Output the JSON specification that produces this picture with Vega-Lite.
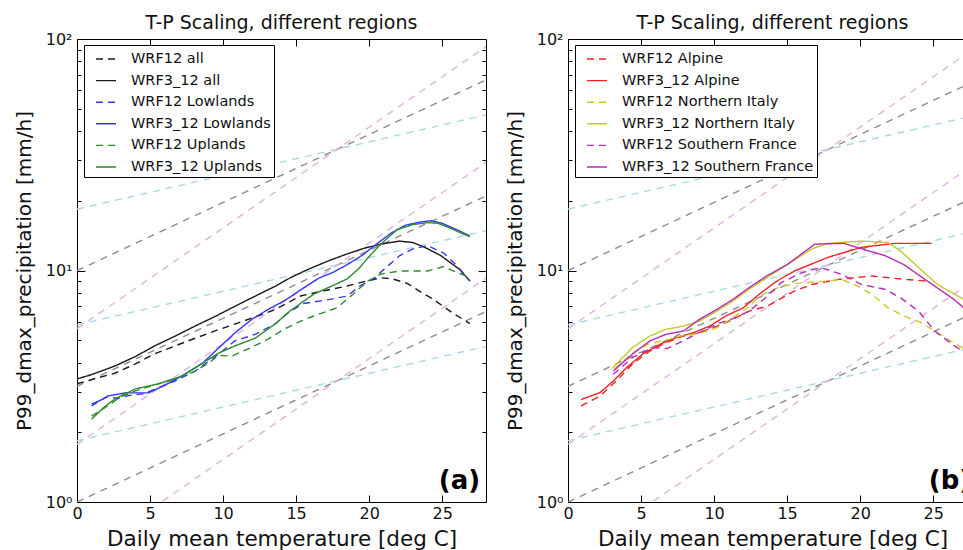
{
  "$schema": "https://vega.github.io/schema/vega-lite/v6.json",
  "padding": {"left": 14, "top": 14, "right": 0, "bottom": 0},
  "autosize": {"type": "pad"},
  "spacing": 18,
  "background": "white",
  "config": {
    "view": {"stroke": null},
    "font": "DejaVu Sans",
    "axis": {
      "labelFont": "DejaVu Sans", "labelFontSize": 16, "labelColor": "#111",
      "titleFont": "DejaVu Sans", "titleFontSize": 20, "titleFontWeight": "normal", "titleColor": "#111",
      "grid": false, "domainColor": "#000", "domainWidth": 1, "tickColor": "#000", "tickWidth": 1,
      "labelOverlap": false, "labelFlush": false, "labelBound": false
    },
    "legend": {
      "orient": "none", "legendX": 7, "legendY": 6, "padding": 3, "symbolOffset": 8,
      "symbolSize": 400, "symbolStrokeWidth": 1.4, "symbolType": "stroke",
      "labelOffset": 14, "rowPadding": 3.6, "labelFontSize": 14.5, "labelFont": "DejaVu Sans",
      "labelColor": "#111", "labelLimit": 0, "fillColor": "white", "strokeColor": "#000",
      "title": null
    },
    "title": {"font": "DejaVu Sans", "fontSize": 19, "fontWeight": "normal", "color": "#111", "baseline": "alphabetic", "offset": -2, "anchor": "middle"}
  },
  "datasets": {
    "ref": [
      {"fam": "0.5CC", "id": "c1", "T": 0, "P": 1.84}, {"fam": "0.5CC", "id": "c1", "T": 28, "P": 4.70},
      {"fam": "0.5CC", "id": "c2", "T": 0, "P": 5.82}, {"fam": "0.5CC", "id": "c2", "T": 28, "P": 14.86},
      {"fam": "0.5CC", "id": "c3", "T": 0, "P": 18.4}, {"fam": "0.5CC", "id": "c3", "T": 28, "P": 47.0},
      {"fam": "1CC", "id": "g1", "T": 0, "P": 1.0}, {"fam": "1CC", "id": "g1", "T": 28, "P": 6.65},
      {"fam": "1CC", "id": "g2", "T": 0, "P": 3.16}, {"fam": "1CC", "id": "g2", "T": 28, "P": 21.0},
      {"fam": "1CC", "id": "g3", "T": 0, "P": 10.0}, {"fam": "1CC", "id": "g3", "T": 28, "P": 66.5},
      {"fam": "1.5CC", "id": "p1", "T": 0, "P": 0.561}, {"fam": "1.5CC", "id": "p1", "T": 28, "P": 9.27},
      {"fam": "1.5CC", "id": "p2", "T": 0, "P": 1.774}, {"fam": "1.5CC", "id": "p2", "T": 28, "P": 29.3},
      {"fam": "1.5CC", "id": "p3", "T": 0, "P": 5.61}, {"fam": "1.5CC", "id": "p3", "T": 28, "P": 92.7}
    ],
    "a": [
      {"series": "WRF12 all", "T": 0.0, "P": 3.24}, {"series": "WRF12 all", "T": 1.0, "P": 3.38}, {"series": "WRF12 all", "T": 2.6, "P": 3.6}, {"series": "WRF12 all", "T": 4.0, "P": 3.95}, {"series": "WRF12 all", "T": 5.3, "P": 4.36}, {"series": "WRF12 all", "T": 6.7, "P": 4.72}, {"series": "WRF12 all", "T": 8.1, "P": 5.1}, {"series": "WRF12 all", "T": 9.5, "P": 5.5}, {"series": "WRF12 all", "T": 10.8, "P": 5.87}, {"series": "WRF12 all", "T": 12.2, "P": 6.3}, {"series": "WRF12 all", "T": 13.6, "P": 6.8}, {"series": "WRF12 all", "T": 15.3, "P": 7.76}, {"series": "WRF12 all", "T": 17.0, "P": 8.2}, {"series": "WRF12 all", "T": 18.5, "P": 8.57}, {"series": "WRF12 all", "T": 19.8, "P": 9.0}, {"series": "WRF12 all", "T": 20.8, "P": 9.3}, {"series": "WRF12 all", "T": 21.6, "P": 9.2}, {"series": "WRF12 all", "T": 22.6, "P": 8.8}, {"series": "WRF12 all", "T": 23.5, "P": 8.1}, {"series": "WRF12 all", "T": 24.4, "P": 7.5}, {"series": "WRF12 all", "T": 25.8, "P": 6.5}, {"series": "WRF12 all", "T": 26.9, "P": 5.9},
      {"series": "WRF3_12 all", "T": 0.0, "P": 3.4}, {"series": "WRF3_12 all", "T": 1.0, "P": 3.55}, {"series": "WRF3_12 all", "T": 2.6, "P": 3.87}, {"series": "WRF3_12 all", "T": 4.0, "P": 4.25}, {"series": "WRF3_12 all", "T": 5.3, "P": 4.72}, {"series": "WRF3_12 all", "T": 6.7, "P": 5.2}, {"series": "WRF3_12 all", "T": 8.1, "P": 5.76}, {"series": "WRF3_12 all", "T": 9.5, "P": 6.35}, {"series": "WRF3_12 all", "T": 10.8, "P": 7.0}, {"series": "WRF3_12 all", "T": 12.2, "P": 7.75}, {"series": "WRF3_12 all", "T": 13.6, "P": 8.57}, {"series": "WRF3_12 all", "T": 14.6, "P": 9.3}, {"series": "WRF3_12 all", "T": 15.8, "P": 10.1}, {"series": "WRF3_12 all", "T": 17.2, "P": 11.0}, {"series": "WRF3_12 all", "T": 18.5, "P": 11.8}, {"series": "WRF3_12 all", "T": 19.7, "P": 12.5}, {"series": "WRF3_12 all", "T": 20.8, "P": 13.0}, {"series": "WRF3_12 all", "T": 22.1, "P": 13.4}, {"series": "WRF3_12 all", "T": 23.0, "P": 13.2}, {"series": "WRF3_12 all", "T": 23.8, "P": 12.6}, {"series": "WRF3_12 all", "T": 24.9, "P": 11.6}, {"series": "WRF3_12 all", "T": 26.2, "P": 10.1}, {"series": "WRF3_12 all", "T": 26.9, "P": 9.0},
      {"series": "WRF12 Lowlands", "T": 1.0, "P": 2.6}, {"series": "WRF12 Lowlands", "T": 1.6, "P": 2.75}, {"series": "WRF12 Lowlands", "T": 2.1, "P": 2.85}, {"series": "WRF12 Lowlands", "T": 2.8, "P": 2.8}, {"series": "WRF12 Lowlands", "T": 3.5, "P": 2.88}, {"series": "WRF12 Lowlands", "T": 4.5, "P": 2.93}, {"series": "WRF12 Lowlands", "T": 5.5, "P": 3.1}, {"series": "WRF12 Lowlands", "T": 6.7, "P": 3.33}, {"series": "WRF12 Lowlands", "T": 8.1, "P": 3.68}, {"series": "WRF12 Lowlands", "T": 9.7, "P": 4.36}, {"series": "WRF12 Lowlands", "T": 10.8, "P": 4.96}, {"series": "WRF12 Lowlands", "T": 12.2, "P": 5.3}, {"series": "WRF12 Lowlands", "T": 13.6, "P": 5.9}, {"series": "WRF12 Lowlands", "T": 14.5, "P": 6.6}, {"series": "WRF12 Lowlands", "T": 15.5, "P": 7.2}, {"series": "WRF12 Lowlands", "T": 17.3, "P": 7.5}, {"series": "WRF12 Lowlands", "T": 18.5, "P": 7.76}, {"series": "WRF12 Lowlands", "T": 19.4, "P": 8.6}, {"series": "WRF12 Lowlands", "T": 20.3, "P": 9.2}, {"series": "WRF12 Lowlands", "T": 21.0, "P": 10.1}, {"series": "WRF12 Lowlands", "T": 22.1, "P": 11.6}, {"series": "WRF12 Lowlands", "T": 23.0, "P": 12.4}, {"series": "WRF12 Lowlands", "T": 24.0, "P": 12.8}, {"series": "WRF12 Lowlands", "T": 25.1, "P": 11.9}, {"series": "WRF12 Lowlands", "T": 26.0, "P": 10.5}, {"series": "WRF12 Lowlands", "T": 26.9, "P": 9.0},
      {"series": "WRF3_12 Lowlands", "T": 1.0, "P": 2.65}, {"series": "WRF3_12 Lowlands", "T": 1.6, "P": 2.75}, {"series": "WRF3_12 Lowlands", "T": 2.1, "P": 2.87}, {"series": "WRF3_12 Lowlands", "T": 3.3, "P": 2.96}, {"series": "WRF3_12 Lowlands", "T": 4.9, "P": 2.96}, {"series": "WRF3_12 Lowlands", "T": 6.2, "P": 3.24}, {"series": "WRF3_12 Lowlands", "T": 7.4, "P": 3.57}, {"series": "WRF3_12 Lowlands", "T": 8.6, "P": 3.98}, {"series": "WRF3_12 Lowlands", "T": 9.7, "P": 4.63}, {"series": "WRF3_12 Lowlands", "T": 10.8, "P": 5.37}, {"series": "WRF3_12 Lowlands", "T": 12.0, "P": 6.17}, {"series": "WRF3_12 Lowlands", "T": 13.1, "P": 6.8}, {"series": "WRF3_12 Lowlands", "T": 14.2, "P": 7.4}, {"series": "WRF3_12 Lowlands", "T": 15.5, "P": 8.4}, {"series": "WRF3_12 Lowlands", "T": 16.6, "P": 9.3}, {"series": "WRF3_12 Lowlands", "T": 17.5, "P": 9.8}, {"series": "WRF3_12 Lowlands", "T": 18.5, "P": 10.6}, {"series": "WRF3_12 Lowlands", "T": 19.5, "P": 11.6}, {"series": "WRF3_12 Lowlands", "T": 20.5, "P": 13.0}, {"series": "WRF3_12 Lowlands", "T": 21.5, "P": 14.5}, {"series": "WRF3_12 Lowlands", "T": 22.5, "P": 15.7}, {"series": "WRF3_12 Lowlands", "T": 23.5, "P": 16.2}, {"series": "WRF3_12 Lowlands", "T": 24.2, "P": 16.4}, {"series": "WRF3_12 Lowlands", "T": 25.0, "P": 16.0}, {"series": "WRF3_12 Lowlands", "T": 26.0, "P": 15.0}, {"series": "WRF3_12 Lowlands", "T": 26.9, "P": 14.1},
      {"series": "WRF12 Uplands", "T": 1.0, "P": 2.35}, {"series": "WRF12 Uplands", "T": 2.1, "P": 2.6}, {"series": "WRF12 Uplands", "T": 3.0, "P": 2.85}, {"series": "WRF12 Uplands", "T": 4.0, "P": 3.02}, {"series": "WRF12 Uplands", "T": 5.3, "P": 3.2}, {"series": "WRF12 Uplands", "T": 6.7, "P": 3.4}, {"series": "WRF12 Uplands", "T": 8.0, "P": 3.65}, {"series": "WRF12 Uplands", "T": 9.0, "P": 3.98}, {"series": "WRF12 Uplands", "T": 9.7, "P": 4.3}, {"series": "WRF12 Uplands", "T": 10.6, "P": 4.27}, {"series": "WRF12 Uplands", "T": 11.7, "P": 4.58}, {"series": "WRF12 Uplands", "T": 13.1, "P": 5.06}, {"series": "WRF12 Uplands", "T": 14.2, "P": 5.59}, {"series": "WRF12 Uplands", "T": 15.2, "P": 6.0}, {"series": "WRF12 Uplands", "T": 16.2, "P": 6.36}, {"series": "WRF12 Uplands", "T": 17.8, "P": 6.9}, {"series": "WRF12 Uplands", "T": 18.9, "P": 7.9}, {"series": "WRF12 Uplands", "T": 19.9, "P": 9.0}, {"series": "WRF12 Uplands", "T": 20.8, "P": 9.66}, {"series": "WRF12 Uplands", "T": 22.1, "P": 9.95}, {"series": "WRF12 Uplands", "T": 24.0, "P": 9.95}, {"series": "WRF12 Uplands", "T": 25.1, "P": 10.4}, {"series": "WRF12 Uplands", "T": 26.0, "P": 9.8}, {"series": "WRF12 Uplands", "T": 26.6, "P": 9.5},
      {"series": "WRF3_12 Uplands", "T": 1.0, "P": 2.28}, {"series": "WRF3_12 Uplands", "T": 1.8, "P": 2.55}, {"series": "WRF3_12 Uplands", "T": 2.6, "P": 2.79}, {"series": "WRF3_12 Uplands", "T": 4.0, "P": 3.08}, {"series": "WRF3_12 Uplands", "T": 5.5, "P": 3.23}, {"series": "WRF3_12 Uplands", "T": 7.2, "P": 3.5}, {"series": "WRF3_12 Uplands", "T": 8.6, "P": 3.98}, {"series": "WRF3_12 Uplands", "T": 9.7, "P": 4.4}, {"series": "WRF3_12 Uplands", "T": 10.8, "P": 4.72}, {"series": "WRF3_12 Uplands", "T": 12.2, "P": 5.1}, {"series": "WRF3_12 Uplands", "T": 13.6, "P": 5.9}, {"series": "WRF3_12 Uplands", "T": 14.6, "P": 6.7}, {"series": "WRF3_12 Uplands", "T": 16.2, "P": 7.9}, {"series": "WRF3_12 Uplands", "T": 17.5, "P": 8.6}, {"series": "WRF3_12 Uplands", "T": 18.5, "P": 9.2}, {"series": "WRF3_12 Uplands", "T": 19.3, "P": 10.2}, {"series": "WRF3_12 Uplands", "T": 20.0, "P": 11.5}, {"series": "WRF3_12 Uplands", "T": 20.8, "P": 13.0}, {"series": "WRF3_12 Uplands", "T": 21.9, "P": 15.0}, {"series": "WRF3_12 Uplands", "T": 23.0, "P": 15.8}, {"series": "WRF3_12 Uplands", "T": 24.0, "P": 16.1}, {"series": "WRF3_12 Uplands", "T": 24.7, "P": 16.0}, {"series": "WRF3_12 Uplands", "T": 25.5, "P": 15.3}, {"series": "WRF3_12 Uplands", "T": 26.2, "P": 14.6}, {"series": "WRF3_12 Uplands", "T": 26.9, "P": 14.0}
    ],
    "b": [
      {"series": "WRF12 Alpine", "T": 0.9, "P": 2.6}, {"series": "WRF12 Alpine", "T": 2.2, "P": 2.87}, {"series": "WRF12 Alpine", "T": 3.3, "P": 3.33}, {"series": "WRF12 Alpine", "T": 4.4, "P": 3.94}, {"series": "WRF12 Alpine", "T": 5.6, "P": 4.49}, {"series": "WRF12 Alpine", "T": 6.7, "P": 4.88}, {"series": "WRF12 Alpine", "T": 7.9, "P": 5.21}, {"series": "WRF12 Alpine", "T": 9.0, "P": 5.39}, {"series": "WRF12 Alpine", "T": 10.2, "P": 5.75}, {"series": "WRF12 Alpine", "T": 11.3, "P": 6.15}, {"series": "WRF12 Alpine", "T": 12.4, "P": 6.68}, {"series": "WRF12 Alpine", "T": 13.6, "P": 7.0}, {"series": "WRF12 Alpine", "T": 15.5, "P": 8.15}, {"series": "WRF12 Alpine", "T": 16.7, "P": 8.7}, {"series": "WRF12 Alpine", "T": 18.5, "P": 9.16}, {"series": "WRF12 Alpine", "T": 20.8, "P": 9.47}, {"series": "WRF12 Alpine", "T": 23.0, "P": 9.16}, {"series": "WRF12 Alpine", "T": 24.6, "P": 9.0},
      {"series": "WRF3_12 Alpine", "T": 0.9, "P": 2.77}, {"series": "WRF3_12 Alpine", "T": 2.2, "P": 2.97}, {"series": "WRF3_12 Alpine", "T": 3.1, "P": 3.33}, {"series": "WRF3_12 Alpine", "T": 4.0, "P": 3.8}, {"series": "WRF3_12 Alpine", "T": 5.1, "P": 4.35}, {"series": "WRF3_12 Alpine", "T": 6.3, "P": 4.8}, {"series": "WRF3_12 Alpine", "T": 7.4, "P": 5.13}, {"series": "WRF3_12 Alpine", "T": 8.6, "P": 5.39}, {"series": "WRF3_12 Alpine", "T": 9.7, "P": 5.75}, {"series": "WRF3_12 Alpine", "T": 10.8, "P": 6.36}, {"series": "WRF3_12 Alpine", "T": 12.0, "P": 6.9}, {"series": "WRF3_12 Alpine", "T": 13.2, "P": 8.0}, {"series": "WRF3_12 Alpine", "T": 14.3, "P": 9.0}, {"series": "WRF3_12 Alpine", "T": 15.5, "P": 9.95}, {"series": "WRF3_12 Alpine", "T": 17.8, "P": 11.4}, {"series": "WRF3_12 Alpine", "T": 20.1, "P": 12.6}, {"series": "WRF3_12 Alpine", "T": 22.4, "P": 13.1}, {"series": "WRF3_12 Alpine", "T": 24.9, "P": 13.1},
      {"series": "WRF12 Northern Italy", "T": 3.2, "P": 3.75}, {"series": "WRF12 Northern Italy", "T": 4.4, "P": 4.4}, {"series": "WRF12 Northern Italy", "T": 5.6, "P": 4.85}, {"series": "WRF12 Northern Italy", "T": 6.7, "P": 5.0}, {"series": "WRF12 Northern Italy", "T": 7.9, "P": 5.25}, {"series": "WRF12 Northern Italy", "T": 9.0, "P": 5.35}, {"series": "WRF12 Northern Italy", "T": 10.2, "P": 5.66}, {"series": "WRF12 Northern Italy", "T": 11.3, "P": 6.26}, {"series": "WRF12 Northern Italy", "T": 12.4, "P": 7.0}, {"series": "WRF12 Northern Italy", "T": 13.2, "P": 7.8}, {"series": "WRF12 Northern Italy", "T": 14.5, "P": 8.5}, {"series": "WRF12 Northern Italy", "T": 16.0, "P": 8.86}, {"series": "WRF12 Northern Italy", "T": 17.8, "P": 9.0}, {"series": "WRF12 Northern Italy", "T": 18.7, "P": 9.16}, {"series": "WRF12 Northern Italy", "T": 19.6, "P": 8.7}, {"series": "WRF12 Northern Italy", "T": 20.8, "P": 7.9}, {"series": "WRF12 Northern Italy", "T": 21.9, "P": 6.9}, {"series": "WRF12 Northern Italy", "T": 23.0, "P": 6.36}, {"series": "WRF12 Northern Italy", "T": 24.2, "P": 5.95}, {"series": "WRF12 Northern Italy", "T": 25.8, "P": 5.13}, {"series": "WRF12 Northern Italy", "T": 27.1, "P": 4.6},
      {"series": "WRF3_12 Northern Italy", "T": 3.0, "P": 3.76}, {"series": "WRF3_12 Northern Italy", "T": 4.4, "P": 4.64}, {"series": "WRF3_12 Northern Italy", "T": 5.6, "P": 5.21}, {"series": "WRF3_12 Northern Italy", "T": 6.7, "P": 5.57}, {"series": "WRF3_12 Northern Italy", "T": 7.9, "P": 5.75}, {"series": "WRF3_12 Northern Italy", "T": 9.0, "P": 6.05}, {"series": "WRF3_12 Northern Italy", "T": 10.2, "P": 6.68}, {"series": "WRF3_12 Northern Italy", "T": 11.3, "P": 7.38}, {"series": "WRF3_12 Northern Italy", "T": 12.4, "P": 8.3}, {"series": "WRF3_12 Northern Italy", "T": 13.6, "P": 9.3}, {"series": "WRF3_12 Northern Italy", "T": 15.0, "P": 10.6}, {"series": "WRF3_12 Northern Italy", "T": 16.7, "P": 12.4}, {"series": "WRF3_12 Northern Italy", "T": 17.8, "P": 13.1}, {"series": "WRF3_12 Northern Italy", "T": 20.1, "P": 13.4}, {"series": "WRF3_12 Northern Italy", "T": 21.9, "P": 13.2}, {"series": "WRF3_12 Northern Italy", "T": 22.8, "P": 12.1}, {"series": "WRF3_12 Northern Italy", "T": 24.0, "P": 10.3}, {"series": "WRF3_12 Northern Italy", "T": 25.3, "P": 8.7}, {"series": "WRF3_12 Northern Italy", "T": 27.1, "P": 7.5},
      {"series": "WRF12 Southern France", "T": 3.1, "P": 3.56}, {"series": "WRF12 Southern France", "T": 4.4, "P": 4.2}, {"series": "WRF12 Southern France", "T": 5.8, "P": 4.64}, {"series": "WRF12 Southern France", "T": 6.8, "P": 4.6}, {"series": "WRF12 Southern France", "T": 8.1, "P": 5.05}, {"series": "WRF12 Southern France", "T": 9.0, "P": 5.4}, {"series": "WRF12 Southern France", "T": 10.2, "P": 5.87}, {"series": "WRF12 Southern France", "T": 11.3, "P": 6.2}, {"series": "WRF12 Southern France", "T": 12.4, "P": 6.68}, {"series": "WRF12 Southern France", "T": 13.5, "P": 7.6}, {"series": "WRF12 Southern France", "T": 14.6, "P": 8.86}, {"series": "WRF12 Southern France", "T": 16.0, "P": 9.78}, {"series": "WRF12 Southern France", "T": 17.3, "P": 10.3}, {"series": "WRF12 Southern France", "T": 18.7, "P": 9.64}, {"series": "WRF12 Southern France", "T": 20.1, "P": 8.7}, {"series": "WRF12 Southern France", "T": 21.7, "P": 8.3}, {"series": "WRF12 Southern France", "T": 22.8, "P": 7.6}, {"series": "WRF12 Southern France", "T": 24.0, "P": 6.68}, {"series": "WRF12 Southern France", "T": 25.1, "P": 5.48}, {"series": "WRF12 Southern France", "T": 26.3, "P": 4.8}, {"series": "WRF12 Southern France", "T": 27.1, "P": 4.45},
      {"series": "WRF3_12 Southern France", "T": 3.1, "P": 3.68}, {"series": "WRF3_12 Southern France", "T": 4.4, "P": 4.35}, {"series": "WRF3_12 Southern France", "T": 5.6, "P": 4.96}, {"series": "WRF3_12 Southern France", "T": 6.7, "P": 5.3}, {"series": "WRF3_12 Southern France", "T": 7.9, "P": 5.48}, {"series": "WRF3_12 Southern France", "T": 9.0, "P": 6.15}, {"series": "WRF3_12 Southern France", "T": 10.2, "P": 6.8}, {"series": "WRF3_12 Southern France", "T": 11.3, "P": 7.51}, {"series": "WRF3_12 Southern France", "T": 12.4, "P": 8.43}, {"series": "WRF3_12 Southern France", "T": 13.6, "P": 9.47}, {"series": "WRF3_12 Southern France", "T": 15.0, "P": 10.6}, {"series": "WRF3_12 Southern France", "T": 16.9, "P": 13.0}, {"series": "WRF3_12 Southern France", "T": 18.9, "P": 13.1}, {"series": "WRF3_12 Southern France", "T": 20.1, "P": 12.4}, {"series": "WRF3_12 Southern France", "T": 21.7, "P": 11.6}, {"series": "WRF3_12 Southern France", "T": 23.0, "P": 10.6}, {"series": "WRF3_12 Southern France", "T": 24.6, "P": 9.0}, {"series": "WRF3_12 Southern France", "T": 26.3, "P": 7.6}, {"series": "WRF3_12 Southern France", "T": 27.1, "P": 6.9}
    ]
  },
  "hconcat": [
    {
      "width": 409, "height": 463,
      "title": {"text": "T-P Scaling, different regions"},
      "resolve": {"axis": {"x": "independent", "y": "independent"}},
      "layer": [
        {
          "data": {"name": "ref"},
          "mark": {"type": "line", "clip": true, "strokeWidth": 1.4, "strokeDash": [7, 6]},
          "encoding": {
            "x": {"field": "T", "type": "quantitative", "scale": {"domain": [0, 28], "nice": false, "zero": false},
                  "axis": {"orient": "top", "values": [0, 5, 10, 15, 20, 25], "tickSize": -7, "labels": false, "title": null, "domain": true}},
            "y": {"field": "P", "type": "quantitative", "scale": {"type": "log", "domain": [1, 100], "nice": false},
                  "axis": {"orient": "right", "values": [1, 2, 3, 4, 5, 6, 7, 8, 9, 10, 20, 30, 40, 50, 60, 70, 80, 90, 100],
                           "tickSize": {"condition": {"test": "datum.value == 1 || datum.value == 10 || datum.value == 100", "value": -8}, "value": -4},
                           "labels": false, "title": null, "domain": true}},
            "detail": {"field": "id"},
            "stroke": {"field": "fam", "type": "nominal", "scale": {"domain": ["0.5CC", "1CC", "1.5CC"], "range": ["#a9d9e4", "#8c8c8c", "#e2b2e0"]}, "legend": null}
          }
        },
        {
          "data": {"name": "a"},
          "mark": {"type": "line", "clip": true, "strokeWidth": 1.4},
          "encoding": {
            "x": {"field": "T", "type": "quantitative", "scale": {"domain": [0, 28], "nice": false, "zero": false},
                  "axis": {"orient": "bottom", "values": [0, 5, 10, 15, 20, 25], "tickSize": -7, "labelPadding": 10, "title": "Daily mean temperature [deg C]", "titleFontSize": 21.5, "titleY": 43, "titleBaseline": "alphabetic", "domain": true}},
            "y": {"field": "P", "type": "quantitative", "scale": {"type": "log", "domain": [1, 100], "nice": false},
                  "axis": {"orient": "left", "values": [1, 2, 3, 4, 5, 6, 7, 8, 9, 10, 20, 30, 40, 50, 60, 70, 80, 90, 100],
                           "tickSize": {"condition": {"test": "datum.value == 1 || datum.value == 10 || datum.value == 100", "value": -8}, "value": -4},
                           "labelExpr": "datum.value == 1 ? '10⁰' : datum.value == 10 ? '10¹' : datum.value == 100 ? '10²' : ''",
                           "labelPadding": 13, "title": "P99_dmax_precipitation [mm/h]", "titleX": -53, "titleY": 231.5, "titleBaseline": "middle", "titleAlign": "center", "domain": true}},
            "color": {"field": "series", "type": "nominal",
                      "scale": {"domain": ["WRF12 all", "WRF3_12 all", "WRF12 Lowlands", "WRF3_12 Lowlands", "WRF12 Uplands", "WRF3_12 Uplands"],
                                "range": ["#1a1a1a", "#1a1a1a", "#3636ee", "#3636ee", "#2a8c2a", "#2a8c2a"]},
                      "legend": {}},
            "strokeDash": {"field": "series", "type": "nominal",
                      "scale": {"domain": ["WRF12 all", "WRF3_12 all", "WRF12 Lowlands", "WRF3_12 Lowlands", "WRF12 Uplands", "WRF3_12 Uplands"],
                                "range": [[7, 5], [1, 0], [7, 5], [1, 0], [7, 5], [1, 0]]},
                      "legend": {}}
          }
        },
        {
          "data": {"values": [{}]},
          "mark": {"type": "text", "text": "(a)", "fontSize": 26, "fontWeight": "bold", "align": "right", "baseline": "alphabetic", "color": "#000", "clip": true},
          "encoding": {
            "x": {"datum": 27.6, "type": "quantitative", "axis": null},
            "y": {"datum": 1.14, "type": "quantitative", "axis": null}
          }
        }
      ]
    },
    {
      "width": 396, "height": 463,
      "title": {"text": "T-P Scaling, different regions", "dx": 6.5},
      "resolve": {"axis": {"x": "independent", "y": "independent"}},
      "layer": [
        {
          "data": {"name": "ref"},
          "mark": {"type": "line", "clip": true, "strokeWidth": 1.4, "strokeDash": [7, 6]},
          "encoding": {
            "x": {"field": "T", "type": "quantitative", "scale": {"domain": [0, 27.11], "nice": false, "zero": false},
                  "axis": {"orient": "top", "values": [0, 5, 10, 15, 20, 25], "tickSize": -7, "labels": false, "title": null, "domain": true}},
            "y": {"field": "P", "type": "quantitative", "scale": {"type": "log", "domain": [1, 100], "nice": false}, "axis": null},
            "detail": {"field": "id"},
            "stroke": {"field": "fam", "type": "nominal", "scale": {"domain": ["0.5CC", "1CC", "1.5CC"], "range": ["#a9d9e4", "#8c8c8c", "#e2b2e0"]}, "legend": null}
          }
        },
        {
          "data": {"name": "b"},
          "mark": {"type": "line", "clip": true, "strokeWidth": 1.4},
          "encoding": {
            "x": {"field": "T", "type": "quantitative", "scale": {"domain": [0, 27.11], "nice": false, "zero": false},
                  "axis": {"orient": "bottom", "values": [0, 5, 10, 15, 20, 25], "tickSize": -7, "labelPadding": 10, "title": "Daily mean temperature [deg C]", "titleFontSize": 21.5, "titleX": 204.5, "titleY": 43, "titleBaseline": "alphabetic", "domain": true}},
            "y": {"field": "P", "type": "quantitative", "scale": {"type": "log", "domain": [1, 100], "nice": false},
                  "axis": {"orient": "left", "values": [1, 2, 3, 4, 5, 6, 7, 8, 9, 10, 20, 30, 40, 50, 60, 70, 80, 90, 100],
                           "tickSize": {"condition": {"test": "datum.value == 1 || datum.value == 10 || datum.value == 100", "value": -8}, "value": -4},
                           "labelExpr": "datum.value == 1 ? '10⁰' : datum.value == 10 ? '10¹' : datum.value == 100 ? '10²' : ''",
                           "labelPadding": 13, "title": "P99_dmax_precipitation [mm/h]", "titleX": -53, "titleY": 231.5, "titleBaseline": "middle", "titleAlign": "center", "domain": true}},
            "color": {"field": "series", "type": "nominal",
                      "scale": {"domain": ["WRF12 Alpine", "WRF3_12 Alpine", "WRF12 Northern Italy", "WRF3_12 Northern Italy", "WRF12 Southern France", "WRF3_12 Southern France"],
                                "range": ["#ee2222", "#ee2222", "#c8c826", "#c8c826", "#b82ab8", "#b82ab8"]},
                      "legend": {}},
            "strokeDash": {"field": "series", "type": "nominal",
                      "scale": {"domain": ["WRF12 Alpine", "WRF3_12 Alpine", "WRF12 Northern Italy", "WRF3_12 Northern Italy", "WRF12 Southern France", "WRF3_12 Southern France"],
                                "range": [[7, 5], [1, 0], [7, 5], [1, 0], [7, 5], [1, 0]]},
                      "legend": {}}
          }
        },
        {
          "data": {"values": [{}]},
          "mark": {"type": "text", "text": "(b)", "fontSize": 26, "fontWeight": "bold", "align": "right", "baseline": "alphabetic", "color": "#000", "clip": true},
          "encoding": {
            "x": {"datum": 27.6, "type": "quantitative", "axis": null},
            "y": {"datum": 1.14, "type": "quantitative", "axis": null}
          }
        }
      ]
    }
  ],
  "resolve": {"scale": {"color": "independent", "strokeDash": "independent", "x": "independent", "y": "independent"}, "legend": {"color": "independent", "strokeDash": "independent"}}
}
